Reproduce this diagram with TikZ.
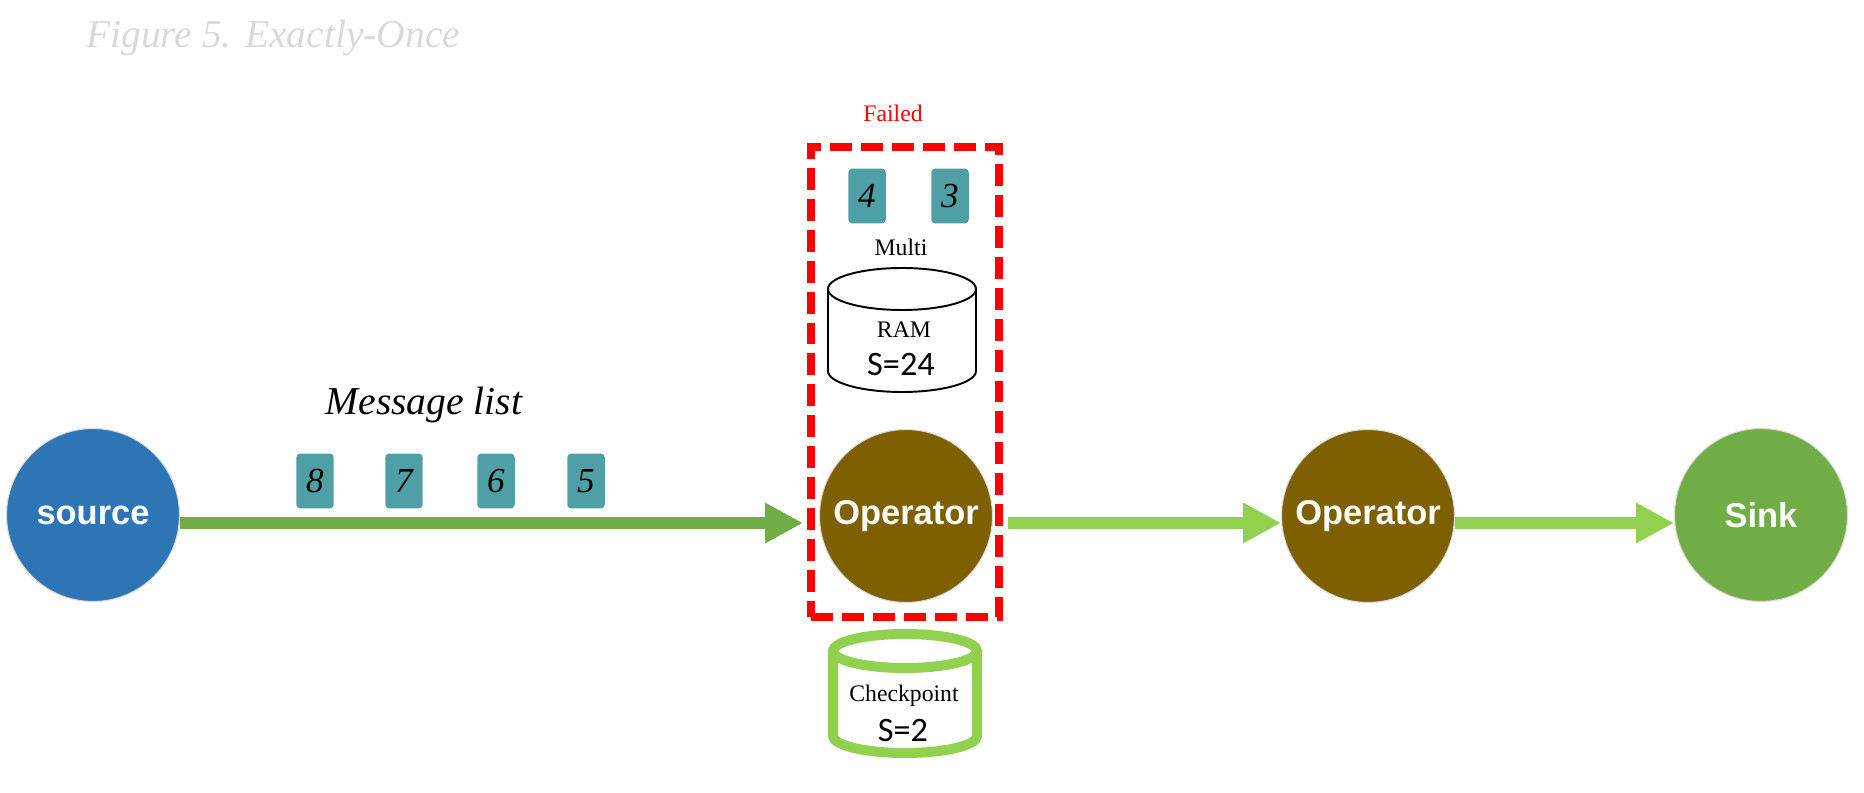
\documentclass[tikz,border=0pt]{standalone}
\usepackage{fontspec}
\setmainfont{Liberation Serif}
\newfontfamily\stationfont{Liberation Sans}
\newfontfamily\statefont{Carlito}
\usetikzlibrary{arrows.meta}

\definecolor{srcblue}{RGB}{46,117,182}
\definecolor{opbrown}{RGB}{127,96,0}
\definecolor{sinkgreen}{RGB}{112,173,71}
\definecolor{flowgreen}{RGB}{146,208,80}
\definecolor{msgteal}{RGB}{79,160,166}

\tikzset{
	station/.style={circle, draw=gray!30, line width=0.6pt, minimum size=3.46cm, inner sep=0pt,
		text=white, font=\stationfont\bfseries\fontsize{19.6}{22}\selectfont},
	msg/.style={rounded corners=0.08cm, fill=msgteal, minimum width=0.75cm, minimum height=1.1cm,
		inner sep=0pt, font=\itshape\fontsize{20}{22}\selectfont},
	flow/.style={line width=0.24cm, -{Triangle[length=0.76cm, width=0.76cm]}},
	smalltext/.style={font=\fontsize{13.5}{16}\selectfont},
	statetext/.style={font=\statefont\fontsize{19.5}{22}\selectfont},
}

\begin{document}
\begin{tikzpicture}[x=0.02cm, y=0.02cm]
		\useasboundingbox (0,0) rectangle (1864,792);

		\node[anchor=base west, text=black!15, font=\itshape\fontsize{22.5}{24}\selectfont] (title) at (80,744) {Figure 5. Exactly-Once};

		% stations
		\node[station, fill=srcblue] (src) at (93,277) {source};
		\node[station, fill=opbrown] (opA) at (906,276) {Operator};
		\node[station, fill=opbrown] (opB) at (1368,276) {Operator};
		\node[station, fill=sinkgreen] (sink) at (1761,277) {Sink};

		% arrows
		\coordinate (lane) at (0,269);
		\draw[flow, sinkgreen, shorten >=0.32cm] (src.east |- lane) -- (opA.west |- lane);
		\draw[flow, flowgreen, shorten <=0.3cm] (opA.east |- lane) -- (opB.west |- lane);
		\draw[flow, flowgreen] (opB.east |- lane) -- (sink.west |- lane);

		% message list
		\node[anchor=base, font=\itshape\fontsize{22.5}{24}\selectfont] (msglist) at (424,377) {Message list};
		\foreach \n/\x in {8/315, 7/404, 6/496, 5/586}
			\node[msg] (m\n) at (\x,311) {\n};

		% failed operator
		\node[draw=red, line width=0.16cm, dash pattern=on 0.44cm off 0.18cm,
			minimum width=3.76cm, minimum height=9.42cm, inner sep=0pt] (failbox) at (905,410) {};
		\node[smalltext, text=red] (failtag) at (893,679) {Failed};
		\node[msg] (m4) at (867,596) {4};
		\node[msg] (m3) at (950,596) {3};
		\node[smalltext] (multi) at (901,545) {Multi};

		% RAM
		\draw[line width=1.1pt] (902,503) ellipse [x radius=1.48cm, y radius=0.42cm];
		\draw[line width=1.1pt] (828,503) -- (828,421) arc[start angle=180, end angle=360, x radius=1.48cm, y radius=0.42cm] -- (976,503);
		\node[smalltext] (ram) at (904,462) {RAM};
		\node[statetext] (ramstate) at (901,427) {S=24};

		% checkpoint
		\draw[flowgreen, line width=0.2cm] (905,141) ellipse [x radius=1.44cm, y radius=0.34cm];
		\draw[flowgreen, line width=0.2cm] (833,141) -- (833,56) arc[start angle=180, end angle=360, x radius=1.44cm, y radius=0.34cm] -- (977,141);
		\node[smalltext] (ckpt) at (904,96) {Checkpoint};
		\node[statetext] (ckptstate) at (903,62) {S=2};

	\end{tikzpicture}
\end{document}
